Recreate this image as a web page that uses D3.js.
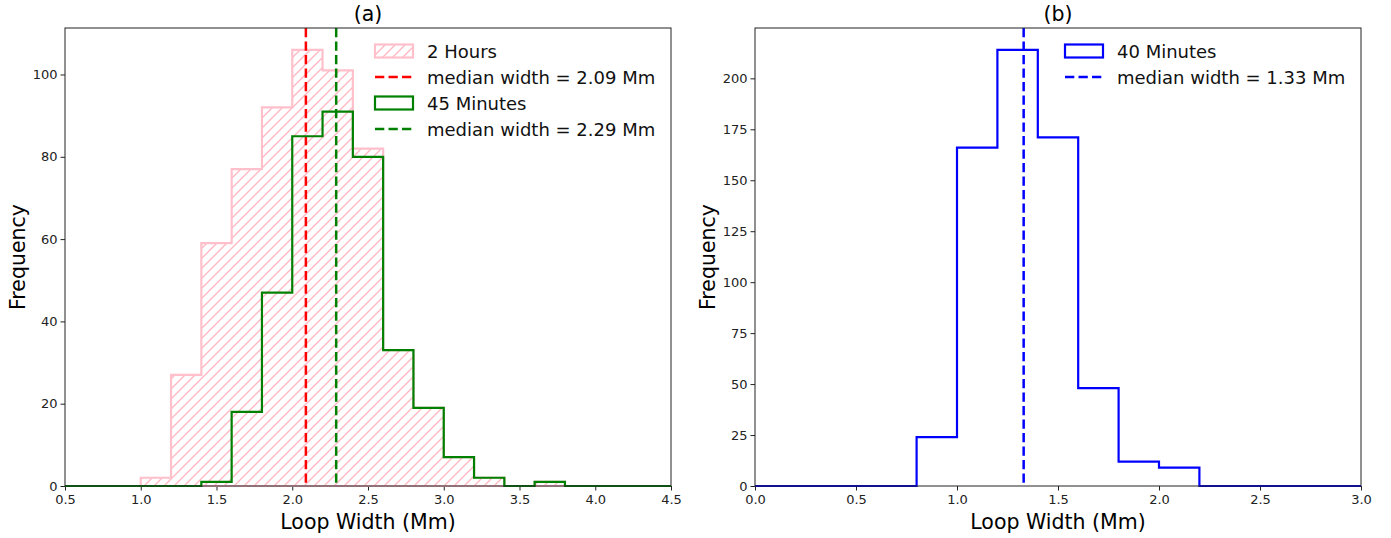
<!DOCTYPE html>
<html>
<head>
<meta charset="utf-8">
<script src="https://cdn.jsdelivr.net/npm/d3@7"></script>
<style>
  body { margin: 0; background: #fff; }
  svg { font-family: "DejaVu Sans", sans-serif; }
</style>
</head>
<body>
<svg id="fig" width="1391" height="538"></svg>
<script>
// panel (a): bin lower edges (width 0.2) and counts
var binsA = [1.0, 1.2, 1.4, 1.6, 1.8, 2.0, 2.2, 2.4, 2.6, 2.8, 3.0, 3.2, 3.4, 3.6];
var hours2 = [2, 27, 59, 77, 92, 106, 101, 82, 33, 19, 7, 2, 0, 1];
var min45 = [0, 0, 1, 18, 47, 85, 91, 80, 33, 19, 7, 2, 0, 1];
var medianA = [2.09, 2.29];
var ticksXA = [0.5, 1.0, 1.5, 2.0, 2.5, 3.0, 3.5, 4.0, 4.5];
var ticksYA = [0, 20, 40, 60, 80, 100];

// panel (b)
var binsB = [0.8, 1.0, 1.2, 1.4, 1.6, 1.8, 2.0];
var min40 = [24, 166, 214, 171, 48, 12, 9];
var medianB = 1.33;
var ticksXB = [0.0, 0.5, 1.0, 1.5, 2.0, 2.5, 3.0];
var ticksYB = [0, 25, 50, 75, 100, 125, 150, 175, 200];

const binW = 0.2;
const svg = d3.select('#fig');
const axTop = 28, axBottom = 486;

var defs = svg.append('defs');
var pat = defs.append('pattern')
  .attr('id', 'hatch')
  .attr('patternUnits', 'userSpaceOnUse')
  .attr('width', 10).attr('height', 10);
pat.append('path')
  .attr('d', 'M-1,1 L1,-1 M0,10 L10,0 M9,11 L11,9')
  .attr('stroke', '#ffb6c1').attr('stroke-width', 1.3);

function stepPoints(x, y, bins, counts){
  let d = x.domain();
  let pts = [[x(d[0]), y(0)], [x(bins[0]), y(0)]];
  for(let i = 0; i < bins.length; i++){
    pts.push([x(bins[i]), y(counts[i])]);
    pts.push([x(bins[i] + binW), y(counts[i])]);
  }
  pts.push([x(bins[bins.length-1] + binW), y(0)]);
  pts.push([x(d[1]), y(0)]);
  return pts;
}

function makePanel(loc, xdom, ydom, xticks, yticks, title){
  var g = svg.append('g');
  var x = d3.scaleLinear().domain(xdom).range([loc.x, loc.x + loc.w]);
  var y = d3.scaleLinear().domain(ydom).range([axBottom, axTop]);

  var xAxis = d3.axisBottom(x).tickValues(xticks).tickFormat(d3.format('.1f')).tickSizeOuter(0).tickSize(4.5).tickPadding(4);
  var yAxis = d3.axisLeft(y).tickValues(yticks).tickSizeOuter(0).tickSize(4.5).tickPadding(3);
  var xa = g.append('g').attr('transform', `translate(0,${axBottom})`).call(xAxis);
  var ya = g.append('g').attr('transform', `translate(${loc.x},0)`).call(yAxis);
  [xa, ya].forEach(a => {
    a.select('.domain').remove();
    a.selectAll('text').attr('font-size', 13).attr('fill', '#222').attr('font-family', 'DejaVu Sans');
    a.selectAll('line').attr('stroke', '#222');
  });

  g.append('text')
    .attr('x', loc.x + loc.w/2).attr('y', 21)
    .attr('text-anchor', 'middle').attr('font-size', 20.5)
    .text(title);
  g.append('text')
    .attr('x', loc.x + loc.w/2).attr('y', 529)
    .attr('text-anchor', 'middle').attr('font-size', 20.5)
    .text('Loop Width (Mm)');
  g.append('text')
    .attr('transform', `translate(${loc.x - 40},257) rotate(-90)`)
    .attr('text-anchor', 'middle').attr('font-size', 20.5)
    .text('Frequency');

  var plot = g.append('g');
  return {g: g, plot: plot, x: x, y: y, loc: loc};
}

function frame(p){
  p.g.append('rect')
    .attr('x', p.loc.x).attr('y', axTop)
    .attr('width', p.loc.w).attr('height', axBottom - axTop)
    .attr('fill', 'none').attr('stroke', '#222').attr('stroke-width', 1);
}

var line = d3.line();

function legend(p, lx, items){
  var lg = p.g.append('g');
  items.forEach((it, i) => {
    let cy = 51 + i*26;
    if(it.type === 'patch'){
      lg.append('rect')
        .attr('x', lx).attr('y', cy - 6.5).attr('width', 38).attr('height', 13)
        .attr('fill', it.hatch ? 'url(#hatch)' : 'none')
        .attr('stroke', it.color).attr('stroke-width', 2.2);
    }else{
      lg.append('line')
        .attr('x1', lx).attr('x2', lx + 38).attr('y1', cy).attr('y2', cy)
        .attr('stroke', it.color).attr('stroke-width', 2.5)
        .attr('stroke-dasharray', '9.3,4.2');
    }
    lg.append('text')
      .attr('x', lx + 52).attr('y', cy + 6.5)
      .attr('font-size', 18).attr('fill', '#111')
      .text(it.label);
  });
}

function medianLine(p, v, color){
  p.plot.append('line')
    .attr('x1', p.x(v)).attr('x2', p.x(v))
    .attr('y1', axTop).attr('y2', axBottom)
    .attr('stroke', color).attr('stroke-width', 2.5)
    .attr('stroke-dasharray', '9.3,4.2');
}

// ---- panel (a)
var pa = makePanel({x: 65, w: 606}, [0.5, 4.5], [0, 111.3], ticksXA, ticksYA, '(a)');
var ptsPink = stepPoints(pa.x, pa.y, binsA, hours2);
pa.plot.append('path')
  .attr('d', line(ptsPink) + 'Z')
  .attr('fill', 'url(#hatch)').attr('stroke', 'pink').attr('stroke-width', 2.2);
medianLine(pa, medianA[0], 'red');
pa.plot.append('path')
  .attr('d', line(stepPoints(pa.x, pa.y, binsA, min45)))
  .attr('fill', 'none').attr('stroke', 'green').attr('stroke-width', 2.2);
medianLine(pa, medianA[1], 'green');
frame(pa);
legend(pa, 375, [
  {type: 'patch', color: 'pink', hatch: true, label: '2 Hours'},
  {type: 'line', color: 'red', label: 'median width = 2.09 Mm'},
  {type: 'patch', color: 'green', label: '45 Minutes'},
  {type: 'line', color: 'green', label: 'median width = 2.29 Mm'}
]);

// ---- panel (b)
var pb = makePanel({x: 755, w: 606}, [0, 3.0], [0, 224.7], ticksXB, ticksYB, '(b)');
pb.plot.append('path')
  .attr('d', line(stepPoints(pb.x, pb.y, binsB, min40)))
  .attr('fill', 'none').attr('stroke', 'blue').attr('stroke-width', 2.2);
medianLine(pb, medianB, 'blue');
frame(pb);
legend(pb, 1065, [
  {type: 'patch', color: 'blue', label: '40 Minutes'},
  {type: 'line', color: 'blue', label: 'median width = 1.33 Mm'}
]);
</script>
</body>
</html>
